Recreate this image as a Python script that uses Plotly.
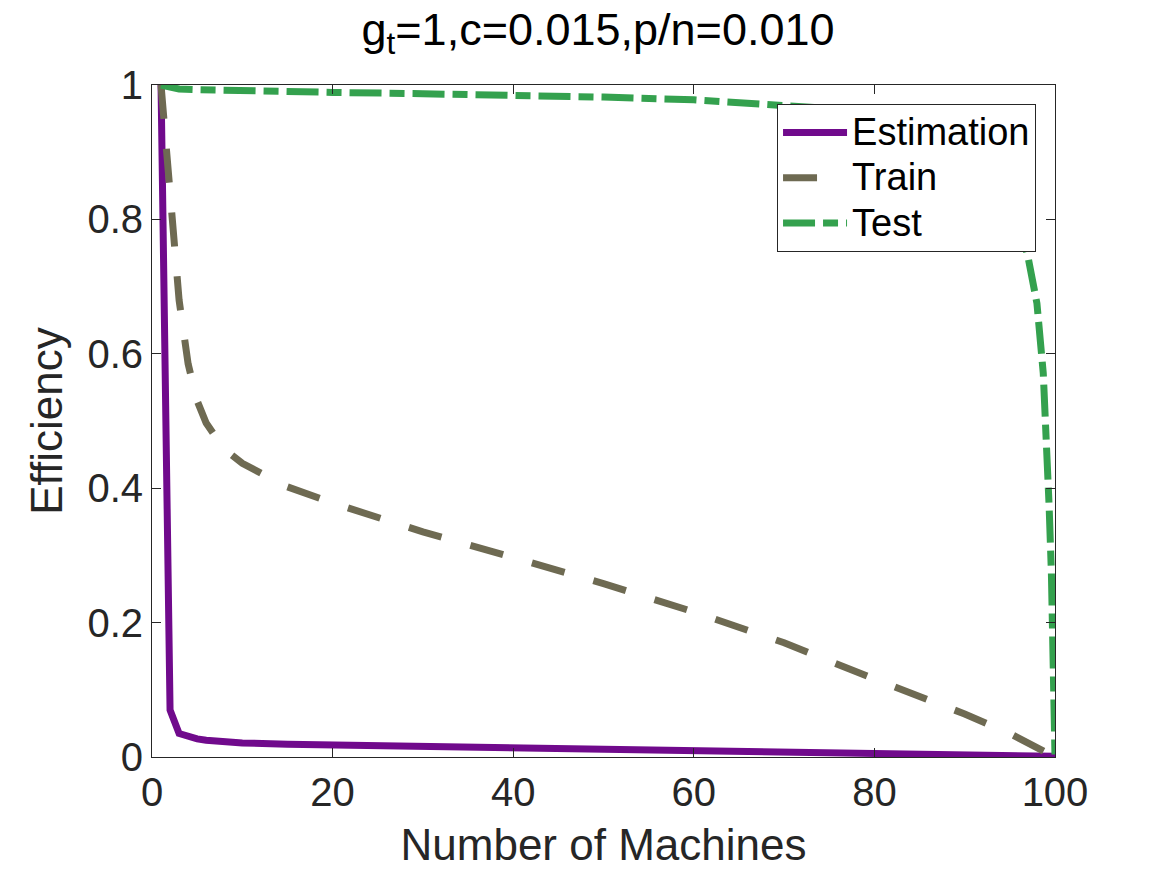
import plotly.graph_objects as go

# ---- data ----
est_x = [1, 2, 3, 4, 5, 6, 8, 10, 15, 20, 30, 40, 50, 60, 70, 80, 90, 100]
est_y = [1.0, 0.070, 0.035, 0.030, 0.027, 0.025, 0.023, 0.021, 0.019, 0.018,
         0.015, 0.012, 0.011, 0.0095, 0.008, 0.006, 0.004, 0.001]

train_x = [1, 2, 3, 4, 5, 6, 8, 10, 15, 20, 25, 30, 40, 50, 60, 70, 80, 90, 95, 100]
train_y = [1.0, 0.83, 0.68, 0.585, 0.53, 0.497, 0.458, 0.437, 0.402, 0.378,
           0.356, 0.335, 0.297, 0.258, 0.216, 0.170, 0.116, 0.064, 0.035, 0.0]

test_x = [1, 2, 3, 5, 10, 20, 30, 40, 50, 60, 67, 72, 75, 80, 85, 90, 93, 95, 96,
          97, 98, 98.7, 99.1, 99.35, 99.6, 99.8, 99.95, 100]
test_y = [1.0, 0.996, 0.994, 0.993, 0.991, 0.989, 0.987, 0.985, 0.982, 0.978,
          0.972, 0.968, 0.965, 0.955, 0.94, 0.91, 0.875, 0.83, 0.795,
          0.745, 0.675, 0.571, 0.472, 0.373, 0.274, 0.174, 0.07, 0.0]

series_names = ["Estimation", "Train", "Test"]
x_ticks = [0, 20, 40, 60, 80, 100]
y_ticks = [0, 0.2, 0.4, 0.6, 0.8, 1]

FONT = "Liberation Sans, Arial, Helvetica, sans-serif"
AX = "#262626"


def legend_label(s):
    return '<span style="font-size:38px">' + s + "</span>"


fig = go.Figure()
fig.add_trace(go.Scatter(x=est_x, y=est_y, mode="lines", name=legend_label(series_names[0]),
                         line=dict(color="#700A8C", width=7)))
fig.add_trace(go.Scatter(x=train_x, y=train_y, mode="lines", name=legend_label(series_names[1]),
                         line=dict(color="#6E6A52", width=7, dash="34px,30px")))
fig.add_trace(go.Scatter(x=test_x, y=test_y, mode="lines", name=legend_label(series_names[2]),
                         line=dict(color="#34A14E", width=7, dash="32px,8px,15px,8px")))

axis_common = dict(
    showgrid=False, zeroline=False, showline=True, linecolor=AX, linewidth=1,
    mirror="ticks", ticks="inside", ticklen=9, tickwidth=1, tickcolor=AX,
    tickfont=dict(family=FONT, size=40, color=AX),
)

fig.update_layout(
    width=1167, height=875, autosize=False,
    margin=dict(l=144, r=120, t=77, b=126),
    paper_bgcolor="white", plot_bgcolor="white",
    font=dict(family=FONT, color=AX),
    title=dict(text="g<sub>t</sub>=1,c=0.015,p/n=0.010",
               font=dict(family=FONT, size=45, color="black"),
               xref="container", x=0.5056, xanchor="center",
               yref="container", y=1 - 21 / 875, yanchor="middle"),
    xaxis=dict(range=[0, 100], tickvals=x_ticks, **axis_common,
               title=dict(text="Number of Machines",
                          font=dict(family=FONT, size=44, color=AX), standoff=16)),
    yaxis=dict(range=[0, 1], tickvals=y_ticks, **axis_common,
               title=dict(text="Efficiency",
                          font=dict(family=FONT, size=44, color=AX), standoff=10)),
    legend=dict(x=0.979, xanchor="right", y=0.972, yanchor="top",
                bgcolor="white", bordercolor=AX, borderwidth=1,
                font=dict(family=FONT, size=32.5, color="black"),
                itemwidth=64, tracegroupgap=0),
    showlegend=True,
)

fig.write_html("out.html")
